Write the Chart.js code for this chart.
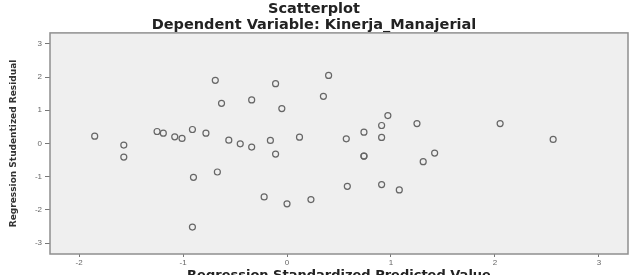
<!DOCTYPE html>
<html>
<head>
<meta charset="utf-8">
<script src="https://cdn.jsdelivr.net/npm/chart.js@4"></script>
<style>
  html, body { margin: 0; padding: 0; background: #fff; overflow: hidden; }
  #wrap { width: 635px; height: 290px; }
</style>
</head>
<body>
<div id="wrap"><canvas id="chart" width="635" height="290"></canvas></div>
<script>
// values
const predicted = [
  -1.85, -1.57, -1.57, -1.25, -1.19, -1.08, -1.01, -0.91, -0.78, -0.69,
  -0.63, -0.56, -0.45, -0.34, -0.34, -0.11, -0.16, -0.11, -0.05, 0.12,
  -0.90, -0.67, -0.22, 0.00, 0.23, -0.91, 0.35, 0.40, 0.57, 0.74,
  0.91, 0.91, 0.97, 1.25, 0.74, 0.74, 1.42, 1.31, 0.58, 0.91,
  1.08, 2.05, 2.56
];
const residual = [
  0.22, -0.05, -0.41, 0.36, 0.31, 0.20, 0.15, 0.42, 0.31, 1.90,
  1.21, 0.10, -0.01, 1.31, -0.11, 1.80, 0.09, -0.32, 1.05, 0.19,
  -1.02, -0.86, -1.61, -1.82, -1.69, -2.52, 1.42, 2.05, 0.14, 0.34,
  0.18, 0.54, 0.84, 0.60, -0.38, -0.38, -0.29, -0.55, -1.29, -1.24,
  -1.40, 0.60, 0.12
];
const xTicks = [-2, -1, 0, 1, 2, 3];
const yTicks = [-3, -2, -1, 0, 1, 2, 3];

const points = predicted.map((x, i) => ({ x: x, y: residual[i] }));

// grey plot frame like SPSS
const plotFrame = {
  id: "plotFrame",
  beforeDatasetsDraw(chart) {
    const { ctx, chartArea: a } = chart;
    ctx.save();
    ctx.fillStyle = "#efefef";
    ctx.fillRect(a.left, a.top, a.right - a.left, a.bottom - a.top);
    ctx.strokeStyle = "#8f8f8f";
    ctx.lineWidth = 1.5;
    ctx.strokeRect(a.left, a.top, a.right - a.left, a.bottom - a.top);
    ctx.restore();
  }
};

const tickFont = { family: "Liberation Sans", size: 8 };
const headFont = { family: "DejaVu Sans", size: 14.5, weight: "bold", lineHeight: 1.1 };

new Chart(document.getElementById("chart"), {
  type: "scatter",
  data: {
    datasets: [{
      data: points,
      pointStyle: "circle",
      pointRadius: 3,
      pointBorderWidth: 1.2,
      borderColor: "#666",
      backgroundColor: "rgba(0,0,0,0)"
    }]
  },
  options: {
    responsive: false,
    animation: false,
    layout: { padding: { top: 0, right: 7, bottom: 0, left: 0 } },
    plugins: {
      legend: { display: false },
      tooltip: { enabled: false },
      title: {
        display: true,
        text: "Scatterplot",
        color: "#222",
        font: headFont,
        padding: { top: 1, bottom: 0 }
      },
      subtitle: {
        display: true,
        text: "Dependent Variable: Kinerja_Manajerial",
        color: "#222",
        font: headFont,
        padding: { top: 0, bottom: 0 }
      }
    },
    scales: {
      x: {
        type: "linear",
        min: -2.28,
        max: 3.28,
        afterBuildTicks: (s) => { s.ticks = xTicks.map(v => ({ value: v })); },
        afterFit: (s) => { s.height = 36; },
        grid: { drawOnChartArea: false, tickLength: 3, color: "#777" },
        border: { display: false },
        ticks: { font: tickFont, color: "#666", padding: 1, maxRotation: 0 },
        title: {
          display: true,
          text: "Regression Standardized Predicted Value",
          color: "#222",
          font: { family: "DejaVu Sans", size: 13, weight: "bold" },
          padding: { top: 0, bottom: 7 }
        }
      },
      y: {
        type: "linear",
        min: -3.33,
        max: 3.33,
        afterBuildTicks: (s) => { s.ticks = yTicks.map(v => ({ value: v })); },
        afterFit: (s) => { s.width = 50; },
        grid: { drawOnChartArea: false, tickLength: 5, color: "#777" },
        border: { display: false },
        ticks: { font: tickFont, color: "#666", padding: 3 },
        title: {
          display: true,
          text: "Regression Studentized Residual",
          color: "#333",
          font: { family: "'DejaVu Sans', sans-serif", size: 9, weight: "bold" },
          padding: { top: 8, bottom: 0 }
        }
      }
    }
  },
  plugins: [plotFrame]
});
</script>
</body>
</html>
